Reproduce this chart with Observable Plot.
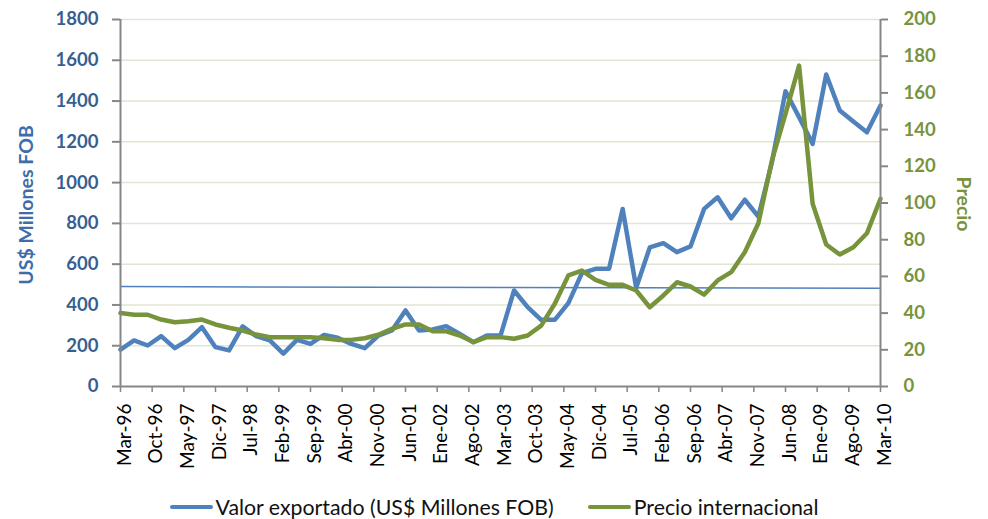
<!DOCTYPE html>
<html>
<head>
<meta charset="utf-8">
<script src="https://cdn.jsdelivr.net/npm/d3@7"></script>
<script src="https://cdn.jsdelivr.net/npm/@observablehq/plot@0.6"></script>
<style>
  html, body { margin: 0; padding: 0; background: #fff; }
  #chart { width: 988px; }
  .legend { box-sizing: border-box; display: flex; justify-content: center; align-items: center; height: 34px; padding-top: 10px;
    font-family: Lato, "Open Sans", sans-serif; font-size: 21.3px; line-height: 24px; color: #111; width: 988px; }
  .legend .item { display: flex; align-items: center; }
  .legend .sw { width: 43px; height: 4.5px; margin-right: 3px; border-radius: 2px; }
  .legend .gap { width: 34px; }
</style>
</head>
<body>
<div id="chart"></div>
<script>
// ---- Data (quarterly, Mar-96 .. Mar-10) ----
const valorExportado = [
  181, 226, 201, 247, 188, 229, 291, 193, 177, 295,
  247, 226, 161, 229, 209, 253, 239, 209, 188, 250,
  275, 373, 275, 280, 296, 258, 217, 250, 250, 471,
  389, 327, 327, 409, 556, 577, 577, 871, 484, 682,
  703, 659, 687, 871, 928, 825, 916, 834, 1100, 1448,
  1321, 1190, 1530, 1354, 1300, 1247, 1378
];
const precioInternacional = [
  40.0, 39.1, 39.1, 36.5, 35.0, 35.6, 36.5, 33.8, 32.0, 30.5,
  28.3, 26.9, 26.9, 26.9, 26.9, 26.3, 25.4, 25.4, 26.3, 28.2,
  31.4, 33.8, 33.8, 30.1, 30.1, 27.8, 24.2, 26.9, 26.9, 26.0,
  27.8, 33.2, 45.1, 60.5, 63.2, 58.1, 55.4, 55.4, 52.3, 43.2,
  49.6, 56.8, 54.5, 50.1, 57.8, 62.3, 73.2, 89.0, 123.2, 148.6,
  174.9, 99.6, 77.4, 71.9, 75.9, 83.5, 102.3
];
// reference (average) line, start and end value
const lineaReferencia = [490, 482];

const xTickLabels = ["Mar-96","Oct-96","May-97","Dic-97","Jul-98","Feb-99","Sep-99","Abr-00","Nov-00",
  "Jun-01","Ene-02","Ago-02","Mar-03","Oct-03","May-04","Dic-04","Jul-05","Feb-06","Sep-06","Abr-07",
  "Nov-07","Jun-08","Ene-09","Ago-09","Mar-10"];
const leftTicks = [0, 200, 400, 600, 800, 1000, 1200, 1400, 1600, 1800];
const rightTicks = [0, 20, 40, 60, 80, 100, 120, 140, 160, 180, 200];

// ---- Derived ----
const monthsPerStep = 3;   // quarterly observations
const monthsPerTick = 7;   // tick label interval
const lastMonth = (valorExportado.length - 1) * monthsPerStep;
const xTickMonths = xTickLabels.map((_, i) => i * monthsPerTick);
const ratio = 1800 / 200;  // left-axis units per right-axis unit

const valorData = valorExportado.map((v, i) => ({m: i * monthsPerStep, v}));
const precioData = precioInternacional.map((p, i) => ({m: i * monthsPerStep, v: p * ratio}));
const refData = [{m: 0, v: lineaReferencia[0]}, {m: lastMonth, v: lineaReferencia[1]}];

const BLUE = "#4F81BD", GREEN = "#77933C", AXIS = "#868686";
const FONT = "Lato, 'Open Sans', sans-serif";

const chart = Plot.plot({
  width: 988,
  height: 485,
  marginLeft: 120,
  marginRight: 108,
  marginTop: 19,
  marginBottom: 99,
  x: {domain: [0, lastMonth]},
  y: {domain: [0, 1800]},
  style: {fontFamily: FONT, background: "white", overflow: "visible"},
  marks: [
    Plot.ruleY(leftTicks.filter(d => d > 0), {stroke: "#e2e5d1", strokeWidth: 1.5}),
    Plot.line(refData, {x: "m", y: "v", stroke: BLUE, strokeWidth: 1.5}),
    Plot.line(valorData, {x: "m", y: "v", stroke: BLUE, strokeWidth: 4.5, strokeLinejoin: "round", strokeLinecap: "round"}),
    Plot.line(precioData, {x: "m", y: "v", stroke: GREEN, strokeWidth: 4.5, strokeLinejoin: "round", strokeLinecap: "round"}),
    Plot.ruleX([0, lastMonth], {stroke: AXIS, strokeWidth: 2}),
    Plot.ruleY([0], {stroke: AXIS, strokeWidth: 2}),
    Plot.axisY({anchor: "left", ticks: leftTicks, tickFormat: d => String(d), tickSize: 8, tickPadding: 14,
      stroke: AXIS, strokeWidth: 2, fill: "#365F91", fontWeight: "bold", fontSize: 18.5, label: null}),
    Plot.axisY({anchor: "right", ticks: rightTicks.map(d => d * ratio), tickFormat: d => String(Math.round(d / ratio)),
      tickSize: 7, tickPadding: 16, stroke: AXIS, strokeWidth: 2, fill: GREEN, fontWeight: "bold", fontSize: 18.5, label: null}),
    Plot.axisX({ticks: xTickMonths, tickSize: 6, stroke: AXIS, strokeWidth: 1.5, fill: "none", label: null}),
    Plot.axisX({ticks: xTickMonths, tickSize: 0, tickPadding: 17, tickRotate: -90, dx: 4,
      tickFormat: d => xTickLabels[xTickMonths.indexOf(d)], fill: "#000", fontSize: 19, label: null}),
    Plot.text(["US$ Millones FOB"], {text: d => d, frameAnchor: "left", textAnchor: "middle", dx: -94, dy: 2, rotate: -90,
      fill: "#3E6DAA", fontWeight: "bold", fontSize: 19.5}),
    Plot.text(["Precio"], {text: d => d, frameAnchor: "right", textAnchor: "middle", dx: 83, dy: 1, rotate: 90,
      fill: GREEN, fontWeight: "bold", fontSize: 19.5})
  ]
});
document.getElementById("chart").appendChild(chart);

const legend = document.createElement("div");
legend.className = "legend";
legend.innerHTML = `
  <div class="item"><div class="sw" style="background:${BLUE}"></div><span>Valor exportado (US$ Millones FOB)</span></div>
  <div class="gap"></div>
  <div class="item"><div class="sw" style="background:${GREEN}"></div><span>Precio internacional</span></div>`;
document.body.appendChild(legend);
</script>
</body>
</html>
